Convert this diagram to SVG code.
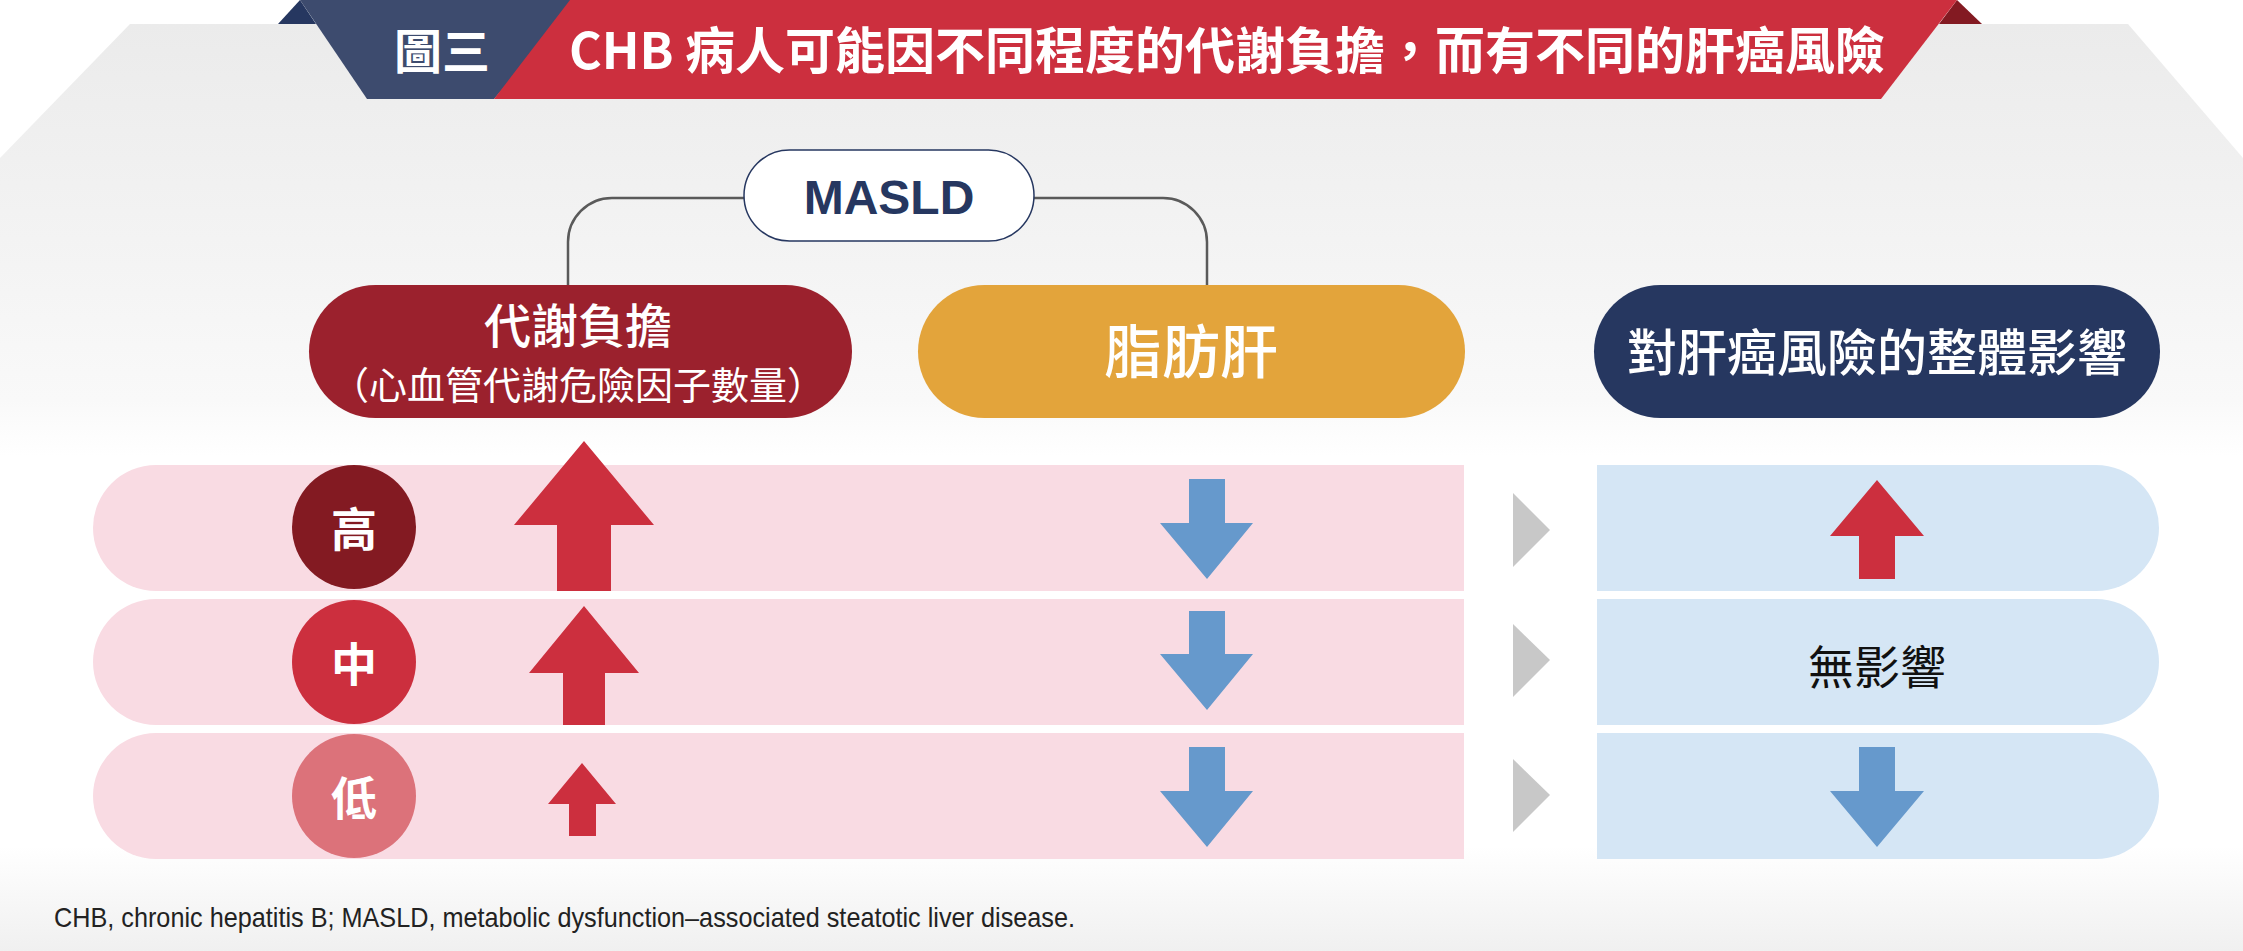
<svg xmlns="http://www.w3.org/2000/svg" width="2243" height="951" viewBox="0 0 2243 951">
  <defs>
    <linearGradient id="bg" x1="0" y1="0" x2="0" y2="951" gradientUnits="userSpaceOnUse">
      <stop offset="0.025" stop-color="#ebebeb"/>
      <stop offset="0.42" stop-color="#f9f9f9"/>
      <stop offset="0.48" stop-color="#ffffff"/>
      <stop offset="0.89" stop-color="#ffffff"/>
      <stop offset="1" stop-color="#f0f0f0"/>
    </linearGradient>
    <style>
      .cjk { font-family: "Noto Sans CJK TC", "Noto Sans CJK SC", sans-serif; }
      .wt { fill: #ffffff; }
      .pink { fill: #f9dbe3; }
      .blue { fill: #d5e6f5; }
      .redArrow { fill: #cc2f3e; }
      .blueArrow { fill: #6699cc; }
      .chev { fill: #c8c8c8; }
      .conn { fill: none; stroke: #5a5a5a; stroke-width: 2.5; }
    </style>
  </defs>

  <!-- background -->
  <rect x="0" y="0" width="2243" height="951" fill="#ffffff"/>
  <polygon points="130,24 2128,24 2243,158 2243,951 0,951 0,158" fill="url(#bg)"/>

  <!-- title banner -->
  <g id="banner">
    <polygon points="300,0 278,24 316,24" fill="#263760"/>
    <polygon points="1957,0 1982,24 1939,24" fill="#831a22"/>
    <polygon points="300,0 580,0 494,99 367,99" fill="#3d4b6e"/>
    <polygon points="570,0 1957,0 1881,99 494,99" fill="#cc2f3e"/>
    <text x="442" y="69" class="cjk wt" font-size="48" font-weight="700" text-anchor="middle">圖三</text>
    <text x="1227" y="69" class="cjk wt" font-size="50" font-weight="700" text-anchor="middle">CHB 病人可能因不同程度的代謝負擔，而有不同的肝癌風險</text>
  </g>

  <!-- connectors -->
  <g id="connectors">
    <path class="conn" d="M744,198 H612 A44,44 0 0 0 568,242 V285"/>
    <path class="conn" d="M1034,198 H1163 A44,44 0 0 1 1207,242 V285"/>
  </g>

  <g id="masld">
    <rect x="744" y="150" width="290" height="91" rx="45.5" fill="#ffffff" stroke="#263760" stroke-width="1.5"/>
    <text x="889" y="214" font-family="Liberation Sans, Arial, sans-serif" font-size="48" font-weight="700" fill="#263760" text-anchor="middle">MASLD</text>
  </g>

  <g id="metabolic">
    <rect x="309" y="285" width="543" height="133" rx="66.5" fill="#9b212d"/>
    <text x="578" y="343" class="cjk wt" font-size="47" font-weight="500" text-anchor="middle">代謝負擔</text>
    <text x="578" y="399" class="cjk wt" font-size="38" text-anchor="middle">（心血管代謝危險因子數量）</text>
  </g>

  <g id="fattyliver">
    <rect x="918" y="285" width="547" height="133" rx="66.5" fill="#e3a43b"/>
    <text x="1191" y="373" class="cjk wt" font-size="58" font-weight="500" text-anchor="middle">脂肪肝</text>
  </g>

  <g id="impact">
    <rect x="1594" y="285" width="566" height="133" rx="66.5" fill="#263760"/>
    <text x="1877" y="371" class="cjk wt" font-size="50" font-weight="500" text-anchor="middle">對肝癌風險的整體影響</text>
  </g>

  <!-- rows -->
  <g id="row-high">
    <path class="pink" d="M1464,465 H156 A63,63 0 0 0 156,591 H1464 Z"/>
    <path class="blue" d="M1597,465 H2096 A63,63 0 0 1 2096,591 H1597 Z"/>
    <circle cx="354" cy="527" r="62" fill="#831a22"/>
    <text x="354" y="546" class="cjk wt" font-size="46" font-weight="700" text-anchor="middle">高</text>
    <polygon class="redArrow" points="584,441 654,525 611,525 611,591 557,591 557,525 514,525"/>
    <polygon class="blueArrow" points="1189,479 1225,479 1225,523 1253,523 1207,579 1160,523 1189,523"/>
    <polygon class="chev" points="1513,493 1550,530 1513,567"/>
    <polygon class="redArrow" points="1877,480 1924,536 1895,536 1895,579 1859,579 1859,536 1830,536"/>
  </g>

  <g id="row-mid">
    <path class="pink" d="M1464,599 H156 A63,63 0 0 0 156,725 H1464 Z"/>
    <path class="blue" d="M1597,599 H2096 A63,63 0 0 1 2096,725 H1597 Z"/>
    <circle cx="354" cy="662" r="62" fill="#cc2f3e"/>
    <text x="354" y="681" class="cjk wt" font-size="46" font-weight="700" text-anchor="middle">中</text>
    <polygon class="redArrow" points="584,606 639,673 605,673 605,725 563,725 563,673 529,673"/>
    <polygon class="blueArrow" points="1189,611 1225,611 1225,654 1253,654 1207,710 1160,654 1189,654"/>
    <polygon class="chev" points="1513,624 1550,660 1513,697"/>
    <text x="1877" y="684" class="cjk" font-size="46" fill="#111111" text-anchor="middle">無影響</text>
  </g>

  <g id="row-low">
    <path class="pink" d="M1464,733 H156 A63,63 0 0 0 156,859 H1464 Z"/>
    <path class="blue" d="M1597,733 H2096 A63,63 0 0 1 2096,859 H1597 Z"/>
    <circle cx="354" cy="796" r="62" fill="#dc727a"/>
    <text x="354" y="815" class="cjk wt" font-size="46" font-weight="700" text-anchor="middle">低</text>
    <polygon class="redArrow" points="582,763 616,804 596,804 596,836 569,836 569,804 548,804"/>
    <polygon class="blueArrow" points="1189,747 1225,747 1225,791 1253,791 1207,847 1160,791 1189,791"/>
    <polygon class="chev" points="1513,759 1550,795 1513,832"/>
    <polygon class="blueArrow" points="1859,747 1895,747 1895,791 1924,791 1877,847 1830,791 1859,791"/>
  </g>

  <text x="54" y="927" font-family="Liberation Sans, Arial, sans-serif" font-size="28" fill="#222222" textLength="1021" lengthAdjust="spacingAndGlyphs">CHB, chronic hepatitis B; MASLD, metabolic dysfunction–associated steatotic liver disease.</text>
</svg>
